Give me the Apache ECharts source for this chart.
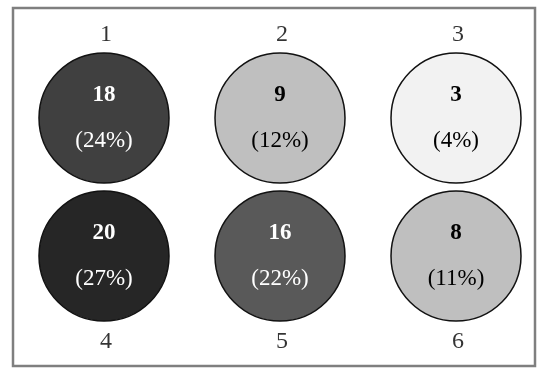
<!DOCTYPE html>
<html><head><meta charset="utf-8">
<script src="https://cdn.jsdelivr.net/npm/echarts@6/dist/echarts.min.js"></script>
<style>html,body{margin:0;padding:0;background:#fff}#c{width:550px;height:381px}</style>
</head><body><div id="c"></div>
<script>
const ids = ['1','2','3','4','5','6'];
const counts = [18, 9, 3, 20, 16, 8];
const percents = ['24%', '12%', '4%', '27%', '22%', '11%'];
const cols = [0, 1, 2, 0, 1, 2];
const rows = [0, 0, 0, 1, 1, 1];
const fills = ['#404040', '#bfbfbf', '#f2f2f2', '#262626', '#595959', '#bfbfbf'];
const textColors = ['#ffffff', '#000000', '#000000', '#ffffff', '#ffffff', '#000000'];

const font = '"Liberation Serif","DejaVu Serif",serif';
const chart = echarts.init(document.getElementById('c'));
const circleData = ids.map((id, i) => ({
  value: [cols[i], rows[i]],
  itemStyle: {color: fills[i]},
  label: {
    rich: {
      v: {fontFamily: font, fontSize: 23, fontWeight: 'bold', color: textColors[i], lineHeight: 46},
      p: {fontFamily: font, fontSize: 23, color: textColors[i], lineHeight: 46}
    }
  },
  cnt: counts[i], pct: percents[i]
}));
const idData = ids.map((id, i) => ({
  value: [cols[i], rows[i]],
  label: {offset: [2, rows[i] === 0 ? -83 : 86]},
  id: id
}));
chart.setOption({
  animation: false,
  grid: {left: 16, top: 49, width: 528, height: 276},
  xAxis: {type: 'value', min: -0.5, max: 2.5, show: false},
  yAxis: {type: 'value', min: -0.5, max: 1.5, inverse: true, show: false},
  graphic: [{type: 'rect', shape: {x: 13, y: 8, width: 522, height: 358},
    style: {fill: 'none', stroke: '#7f7f7f', lineWidth: 2.5}, z: 10}],
  series: [{
    type: 'scatter',
    symbol: 'circle',
    symbolSize: 130,
    itemStyle: {borderColor: '#111', borderWidth: 1.5, opacity: 1},
    label: {
      show: true, position: 'inside',
      formatter: p => '{v|' + p.data.cnt + '}\n{p|(' + p.data.pct + ')}'
    },
    data: circleData
  }, {
    type: 'scatter',
    symbolSize: 1,
    itemStyle: {color: 'rgba(0,0,0,0)'},
    label: {show: true, position: 'inside', formatter: p => p.data.id, fontFamily: font, fontSize: 24, color: '#000'},
    data: idData
  }]
});
</script></body></html>
